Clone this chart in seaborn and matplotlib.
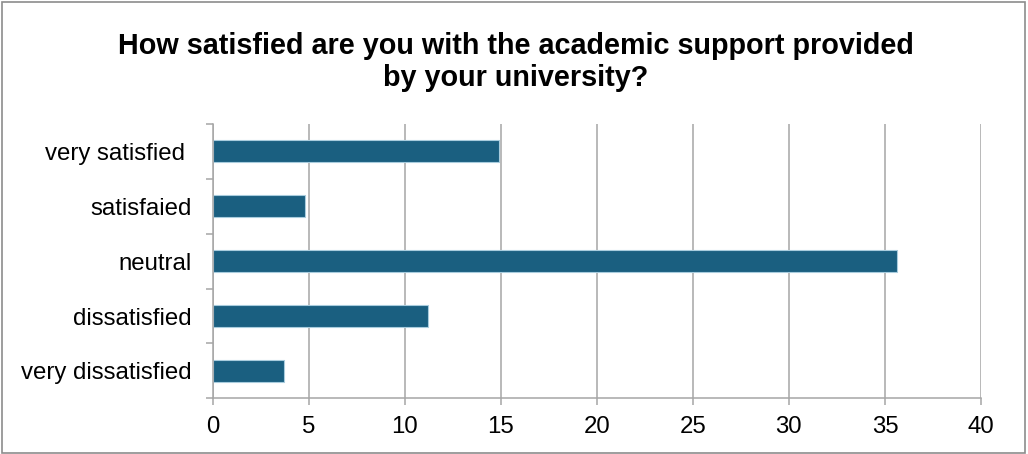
import matplotlib
matplotlib.use('Agg')
import matplotlib.pyplot as plt
import seaborn as sns
import pandas as pd
import numpy as np
from matplotlib.patches import Rectangle
from matplotlib.ticker import FixedLocator

categories = ['very satisfied ', 'satisfaied', 'neutral', 'dissatisfied', 'very dissatisfied']
values = [14.9, 4.8, 35.6, 11.2, 3.7]
xticks = [0, 5, 10, 15, 20, 25, 30, 35, 40]
title = 'How satisfied are you with the academic support provided\nby your university?'

sns.set_theme(style='white')
plt.rcParams['font.family'] = ['Liberation Sans', 'DejaVu Sans']

df = pd.DataFrame({'answer': categories, 'count': values})

fig = plt.figure(figsize=(10.28, 4.54), dpi=100)
ax = fig.add_axes([0.2069, 0.1227, 0.9543 - 0.2069, 0.7269 - 0.1227])

sns.barplot(data=df, y='answer', x='count', orient='h', width=0.4,
            color='#1A5F80', saturation=1, edgecolor='#A8CCDD', linewidth=0.8, ax=ax)

grey = '#A6A6A6'
ax.set_xlim(0, 40)
ax.set_ylim(len(categories) - 0.5, -0.5)
ax.set_xticks(xticks)
ax.set_xticklabels([str(t) for t in xticks])
ax.xaxis.grid(True, color=grey, linewidth=1.1)
ax.yaxis.grid(False)
ax.set_axisbelow(True)
ax.set_xlabel('')
ax.set_ylabel('')

for s in ['top', 'right']:
    ax.spines[s].set_visible(False)
for s in ['left', 'bottom']:
    ax.spines[s].set_color(grey)
    ax.spines[s].set_linewidth(1.1)

# category tick marks sit between the bars
ax.yaxis.set_minor_locator(FixedLocator(np.arange(-0.5, len(categories), 1.0)))
ax.tick_params(axis='y', which='major', length=0, pad=15, labelsize=17.3, labelcolor='black')
ax.tick_params(axis='y', which='minor', length=5, width=1.1, color=grey, left=True)
ax.tick_params(axis='x', which='major', length=5, width=1.1, color=grey, bottom=True,
               pad=8, labelsize=17.3, labelcolor='black')

fig.text(0.5015, 0.863, title, ha='center', va='center', fontsize=20.7,
         fontweight='bold', color='black', linespacing=1.2)

fig.patches.append(Rectangle((0.002, 0.003), 0.995, 0.993, transform=fig.transFigure,
                             fill=False, edgecolor='#8C8C8C', linewidth=1.2))

plt.savefig('out.png', dpi=100)
plt.close()
